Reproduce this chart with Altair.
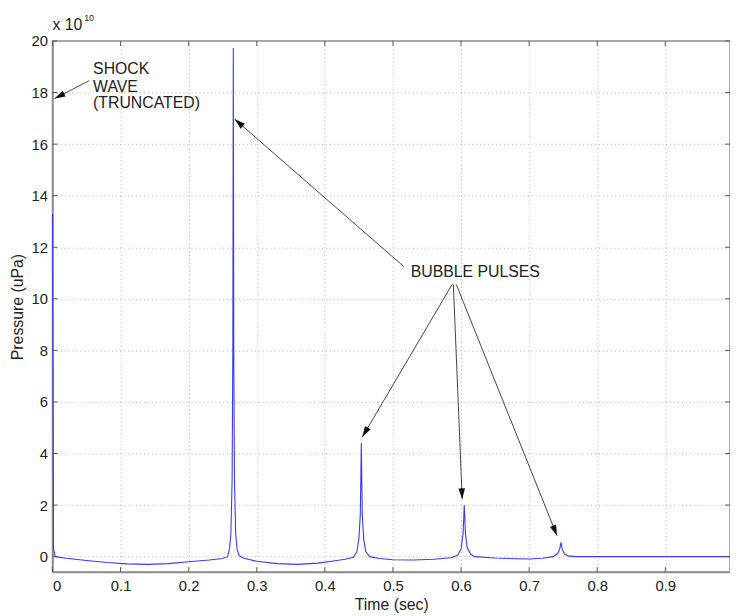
import math
import altair as alt
import pandas as pd

# ---- signal (time in s, pressure in 1e10 uPa) ----
time = [0.0, 0.0015, 0.004, 0.02, 0.05, 0.08, 0.11, 0.14, 0.17, 0.20, 0.23, 0.25,
        0.257, 0.260, 0.262, 0.2638, 0.2648, 0.2655, 0.2662, 0.2672, 0.269, 0.271, 0.274,
        0.28, 0.30, 0.33, 0.36, 0.39, 0.41, 0.43, 0.442, 0.447, 0.450, 0.452, 0.4528,
        0.4535, 0.4542, 0.455, 0.457, 0.460, 0.466, 0.48, 0.50, 0.53, 0.56, 0.585,
        0.595, 0.600, 0.603, 0.6047, 0.6065, 0.609, 0.614, 0.62, 0.65, 0.68, 0.70,
        0.72, 0.735, 0.742, 0.745, 0.7467, 0.7485, 0.752, 0.758, 0.77, 0.995]
pressure = [13.3, 0.3, 0.0, -0.06, -0.15, -0.23, -0.28, -0.3, -0.27, -0.2, -0.13, -0.07,
            0.0, 0.3, 0.9, 3.0, 8.0, 19.73, 8.0, 3.0, 0.9, 0.3, 0.05,
            -0.05, -0.18, -0.27, -0.3, -0.25, -0.18, -0.1, -0.02, 0.2, 0.7, 1.6, 3.0,
            4.42, 3.0, 1.6, 0.7, 0.2, 0.0, -0.07, -0.12, -0.13, -0.1, -0.04,
            0.05, 0.3, 0.9, 2.0, 0.9, 0.35, 0.1, 0.0, -0.05, -0.08, -0.09,
            -0.06, 0.0, 0.12, 0.3, 0.55, 0.3, 0.1, 0.02, 0.0, 0.0]

x_ticks = [0, 0.1, 0.2, 0.3, 0.4, 0.5, 0.6, 0.7, 0.8, 0.9]
y_ticks = [0, 2, 4, 6, 8, 10, 12, 14, 16, 18, 20]

# ---- annotations (data coordinates) ----
label_text = ["SHOCK", "WAVE", "(TRUNCATED)", "BUBBLE PULSES"]
label_t = [0.0596, 0.0596, 0.0596, 0.526]
label_p = [18.93, 18.23, 17.58, 11.02]

arrow_t1 = [0.0538, 0.516, 0.587, 0.5887, 0.593]
arrow_p1 = [18.46, 11.25, 10.56, 10.56, 10.56]
arrow_t2 = [0.003, 0.2674, 0.455, 0.6017, 0.741]
arrow_p2 = [17.77, 16.97, 4.64, 2.23, 0.81]

W, H = 685, 537
X_DOM = [0, 0.995]
Y_DOM = [-0.6, 20]
FONT = "Liberation Sans"

sx = W / (X_DOM[1] - X_DOM[0])
sy = H / (Y_DOM[1] - Y_DOM[0])

sig = pd.DataFrame({"t": time, "p": pressure})
xs = alt.Scale(domain=X_DOM, nice=False, zero=False)
ys = alt.Scale(domain=Y_DOM, nice=False, zero=False)

base_x = alt.X("t:Q", scale=xs,
               axis=alt.Axis(values=x_ticks, format="~g", title="Time (sec)"))
base_y = alt.Y("p:Q", scale=ys,
               axis=alt.Axis(values=y_ticks, format="d", title="Pressure (uPa)"))

line = alt.Chart(sig).mark_line(color="#3a3aff", strokeWidth=1.1, interpolate="linear").encode(
    x=base_x, y=base_y)

# inward tick marks (MATLAB style)
xt = pd.DataFrame({"t": x_ticks})
yt = pd.DataFrame({"p": y_ticks})
tick_style = dict(color="#555555", strokeWidth=1)
xb = alt.Chart(xt).mark_rule(**tick_style).encode(x="t:Q", y=alt.value(H), y2=alt.value(H - 5))
xtp = alt.Chart(xt).mark_rule(**tick_style).encode(x="t:Q", y=alt.value(0), y2=alt.value(5))
yl = alt.Chart(yt).mark_rule(**tick_style).encode(y="p:Q", x=alt.value(0), x2=alt.value(5))
yr = alt.Chart(yt).mark_rule(**tick_style).encode(y="p:Q", x=alt.value(W), x2=alt.value(W - 5))

# annotation text
lab = pd.DataFrame({"txt": label_text, "t": label_t, "p": label_p})
texts = alt.Chart(lab).mark_text(align="left", baseline="middle", font=FONT,
                                 fontSize=16, color="#222222").encode(
    x="t:Q", y="p:Q", text="txt:N")

# arrows
angles = []
for a, b, c, d in zip(arrow_t1, arrow_p1, arrow_t2, arrow_p2):
    dx = (a - c) * sx
    dy = -(b - d) * sy
    ang = math.degrees(math.atan2(-dx, dy)) % 360
    angles.append(ang)
arr = pd.DataFrame({"t": arrow_t1, "p": arrow_p1, "t2": arrow_t2, "p2": arrow_p2,
                    "ang": angles})
shafts = alt.Chart(arr).mark_rule(color="#444444", strokeWidth=1).encode(
    x="t:Q", y="p:Q", x2="t2:Q", y2="p2:Q")
heads = alt.Chart(arr).mark_point(shape="M0,0L0.3,1L-0.3,1Z", filled=True,
                                  color="#111111", opacity=1, size=480).encode(
    x="t2:Q", y="p2:Q", angle=alt.Angle("ang:Q", scale=None))

# exponent label
expo = alt.Chart(pd.DataFrame({"a": [0]})).mark_text(
    align="left", baseline="middle", font=FONT, fontSize=16, color="#222222",
    text="x 10").encode(x=alt.value(0), y=alt.value(-16))
expo2 = alt.Chart(pd.DataFrame({"a": [0]})).mark_text(
    align="left", baseline="middle", font=FONT, fontSize=9, color="#222222",
    text="10").encode(x=alt.value(32), y=alt.value(-23))

chart = alt.layer(line, xb, xtp, yl, yr, shafts, heads, texts, expo, expo2).properties(
    width=W, height=H,
    autosize=alt.AutoSizeParams(type="none"),
    padding={"left": 45, "top": 30, "right": 0, "bottom": 40},
    background="white",
).configure_view(stroke="#8c8c8c", strokeWidth=1.5).configure_axis(
    domainColor="#8c8c8c", domainWidth=1.5, ticks=False,
    grid=True, gridColor="#b0b0b0", gridDash=[1, 3], gridWidth=1,
    labelFont=FONT, labelFontSize=15, labelColor="#222222",
    titleFont=FONT, titleFontSize=16, titleColor="#222222", titleFontWeight="normal",
).configure_axisX(labelPadding=7, titlePadding=3).configure_axisY(
    labelPadding=5, titlePadding=6)

chart.save("out.html", embed_options={"renderer": "svg", "actions": False})
